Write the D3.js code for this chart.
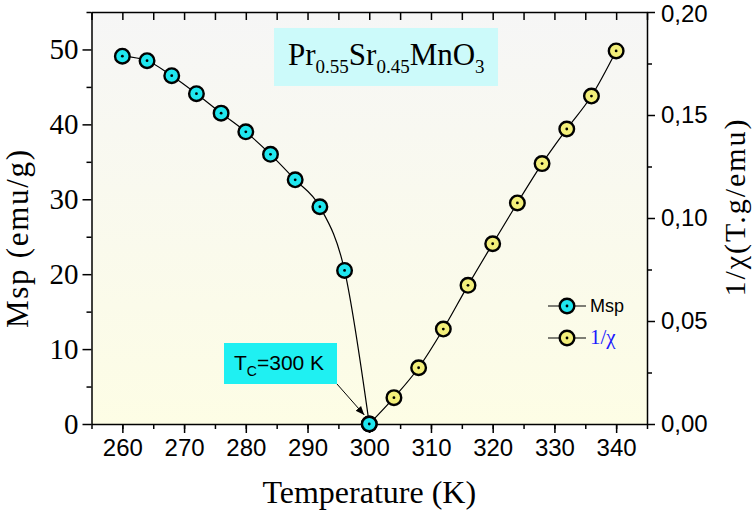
<!DOCTYPE html>
<html>
<head>
<meta charset="utf-8">
<script src="https://cdn.jsdelivr.net/npm/d3@7"></script>
<style>
  body { margin: 0; background: #fff; }
  text { font-weight: normal; }
  .tick line { stroke: #000; stroke-width: 1.5; }
  .domain { stroke: #000; stroke-width: 1.5; }
</style>
</head>
<body>
<div id="container"></div>
<script>
/* DATA */
const tempFM = [260, 264, 268, 272, 276, 280, 284, 288, 292, 296, 300];
const msp = [49.1, 48.5, 46.5, 44.1, 41.5, 39.0, 36.0, 32.6, 29.0, 20.5, 0];
const tempPM = [300, 304, 308, 312, 316, 320, 324, 328, 332, 336, 340];
const invChi = [0, 0.0128, 0.0273, 0.0461, 0.0673, 0.0875, 0.1073, 0.1264, 0.1432, 0.1592, 0.1811];

const xTicks = [260, 270, 280, 290, 300, 310, 320, 330, 340];
const yLeftTicks = [0, 10, 20, 30, 40, 50];
const yRightTicks = [0, 0.05, 0.10, 0.15, 0.20];

/* CONSTANTS */
const width = 756, height = 512;
const plotLeft = 91.5, plotRight = 647, plotTop = 12, plotBottom = 424;
const serif = "'Liberation Serif', 'Times New Roman', serif";
const sans = "'Liberation Sans', Arial, sans-serif";

const svg = d3.select("#container").append("svg")
  .attr("width", width).attr("height", height);

// background gradient
const defs = svg.append("defs");
const grad = defs.append("linearGradient").attr("id", "bg")
  .attr("x1", 0).attr("y1", 0).attr("x2", 0).attr("y2", 1);
grad.append("stop").attr("offset", "0%").attr("stop-color", "#f6f6f6");
grad.append("stop").attr("offset", "100%").attr("stop-color", "#fdfde5");

svg.append("rect")
  .attr("x", plotLeft).attr("y", plotTop)
  .attr("width", plotRight - plotLeft).attr("height", plotBottom - plotTop)
  .attr("fill", "url(#bg)");

/* SCALES */
const x = d3.scaleLinear().domain([255, 345]).range([plotLeft, plotRight]);
const yL = d3.scaleLinear().domain([0, 55]).range([plotBottom, plotTop]);
const yR = d3.scaleLinear().domain([0, 0.2]).range([plotBottom, plotTop]);

/* AXES */
// minor ticks
svg.append("g").attr("transform", `translate(0,${plotBottom})`)
  .call(d3.axisBottom(x).tickValues(d3.range(255, 346, 5)).tickSize(5).tickFormat(""))
  .call(g => g.select(".domain").remove());
svg.append("g").attr("transform", `translate(${plotLeft},0)`)
  .call(d3.axisLeft(yL).tickValues(d3.range(5, 56, 10)).tickSize(5).tickFormat(""))
  .call(g => g.select(".domain").remove());
svg.append("g").attr("transform", `translate(${plotRight},0)`)
  .call(d3.axisRight(yR).tickValues([0.025, 0.075, 0.125, 0.175]).tickSize(5).tickFormat(""))
  .call(g => g.select(".domain").remove());
// top ticks, inward
svg.append("g").attr("transform", `translate(0,${plotTop})`)
  .call(d3.axisTop(x).tickValues(d3.range(255, 346, 5)).tickSize(-8).tickSizeOuter(0).tickFormat(""));

// major
const xAxis = svg.append("g").attr("transform", `translate(0,${plotBottom})`)
  .call(d3.axisBottom(x).tickValues(xTicks).tickSize(9).tickSizeOuter(0).tickPadding(6));
xAxis.selectAll("text")
  .style("font-family", sans).style("font-size", "24px").attr("fill", "#000");

const yAxisL = svg.append("g").attr("transform", `translate(${plotLeft},0)`)
  .call(d3.axisLeft(yL).tickValues(yLeftTicks).tickSize(9).tickSizeOuter(0).tickPadding(4));
yAxisL.selectAll("text")
  .style("font-family", serif).style("font-size", "29px").attr("fill", "#000");

const yAxisR = svg.append("g").attr("transform", `translate(${plotRight},0)`)
  .call(d3.axisRight(yR).tickValues(yRightTicks).tickSize(8).tickSizeOuter(0).tickPadding(6)
    .tickFormat(d => d3.format(".2f")(d).replace(".", ",")));
yAxisR.selectAll("text")
  .style("font-family", sans).style("font-size", "24px").attr("fill", "#000");
yAxisR.selectAll(".tick").filter(d => d === 0.2).select("text").attr("dy", "0.4em");

/* AXIS TITLES */
svg.append("text")
  .attr("x", (plotLeft + plotRight) / 2).attr("y", 503)
  .attr("text-anchor", "middle")
  .style("font-family", serif).style("font-size", "32px")
  .text("Temperature (K)");

svg.append("text")
  .attr("transform", "translate(28,239) rotate(-90)")
  .attr("text-anchor", "middle")
  .attr("textLength", 178).attr("lengthAdjust", "spacing")
  .style("font-family", serif).style("font-size", "31px")
  .text("Msp (emu/g)");

svg.append("text")
  .attr("transform", "translate(745,207) rotate(-90)")
  .attr("text-anchor", "middle")
  .style("font-family", serif).style("font-size", "30px")
  .style("letter-spacing", "2px")
  .text("1/χ(T.g/emu)");

/* LINES */
const fm = tempFM.map((t, i) => ({ t, v: msp[i] }));
const pm = tempPM.map((t, i) => ({ t, v: invChi[i] }));

svg.append("path").datum(fm)
  .attr("fill", "none").attr("stroke", "#000").attr("stroke-width", 1.2)
  .attr("d", d3.line().x(d => x(d.t)).y(d => yL(d.v)).curve(d3.curveMonotoneX));
svg.append("path").datum(pm)
  .attr("fill", "none").attr("stroke", "#000").attr("stroke-width", 1.2)
  .attr("d", d3.line().x(d => x(d.t)).y(d => yR(d.v)).curve(d3.curveMonotoneX));

// markers
const cyan = "#1fe6ef", yellow = "#f3ef7a";
function markers(data, yScale, fill) {
  const g = svg.append("g").selectAll("g").data(data).join("g")
    .attr("transform", d => `translate(${x(d.t)},${yScale(d.v)})`);
  g.append("circle").attr("r", 7.3).attr("fill", fill)
    .attr("stroke", "#000").attr("stroke-width", 2.4);
  g.append("circle").attr("r", 1.4).attr("fill", "#000");
}
markers(pm, yR, yellow);
markers(fm, yL, cyan);

/* COMPOUND LABEL */
svg.append("rect").attr("x", 274).attr("y", 28).attr("width", 224).attr("height", 58)
  .attr("fill", "#ccfafa");
const title = svg.append("text").attr("x", 288).attr("y", 65)
  .style("font-family", serif).style("font-size", "31px");
title.append("tspan").text("Pr");
title.append("tspan").attr("dy", 8).style("font-size", "19px").text("0.55");
title.append("tspan").attr("dy", -8).text("Sr");
title.append("tspan").attr("dy", 8).style("font-size", "19px").text("0.45");
title.append("tspan").attr("dy", -8).text("MnO");
title.append("tspan").attr("dy", 8).style("font-size", "19px").text("3");

/* TC ANNOTATION */
defs.append("marker").attr("id", "arrow")
  .attr("viewBox", "0 0 10 10").attr("refX", 10).attr("refY", 5)
  .attr("markerWidth", 9).attr("markerHeight", 9).attr("orient", "auto")
  .attr("markerUnits", "userSpaceOnUse")
  .append("path").attr("d", "M0,1 L10,5 L0,9 Z").attr("fill", "#000");

svg.append("line")
  .attr("x1", 337).attr("y1", 384)
  .attr("x2", x(299.2)).attr("y2", yL(1.2))
  .attr("stroke", "#000").attr("stroke-width", 1)
  .attr("marker-end", "url(#arrow)");

svg.append("rect").attr("x", 224).attr("y", 343).attr("width", 113).attr("height", 41)
  .attr("fill", "#1ff0f2");
const tc = svg.append("text").attr("x", 234).attr("y", 370)
  .style("font-family", sans).style("font-size", "21px");
tc.append("tspan").text("T");
tc.append("tspan").attr("dy", 6).style("font-size", "14px").text("C");
tc.append("tspan").attr("dy", -6).text("=300 K");

/* LEGEND */
const legend = [
  { label: "Msp", fill: cyan, color: "#000", font: sans, size: 18, y: 306 },
  { label: "1/χ", fill: yellow, color: "#1a1aff", font: serif, size: 21, y: 338 }
];
const lg = svg.append("g").selectAll("g").data(legend).join("g")
  .attr("transform", d => `translate(567,${d.y})`);
lg.append("line").attr("x1", -19).attr("x2", 19).attr("stroke", "#000").attr("stroke-width", 1.2);
lg.append("circle").attr("r", 7.3).attr("fill", d => d.fill).attr("stroke", "#000").attr("stroke-width", 2.4);
lg.append("circle").attr("r", 1.4).attr("fill", "#000");
lg.append("text").attr("x", 23).attr("y", 6)
  .style("font-family", d => d.font).style("font-size", d => d.size + "px")
  .attr("fill", d => d.color).text(d => d.label);
</script>
</body>
</html>
